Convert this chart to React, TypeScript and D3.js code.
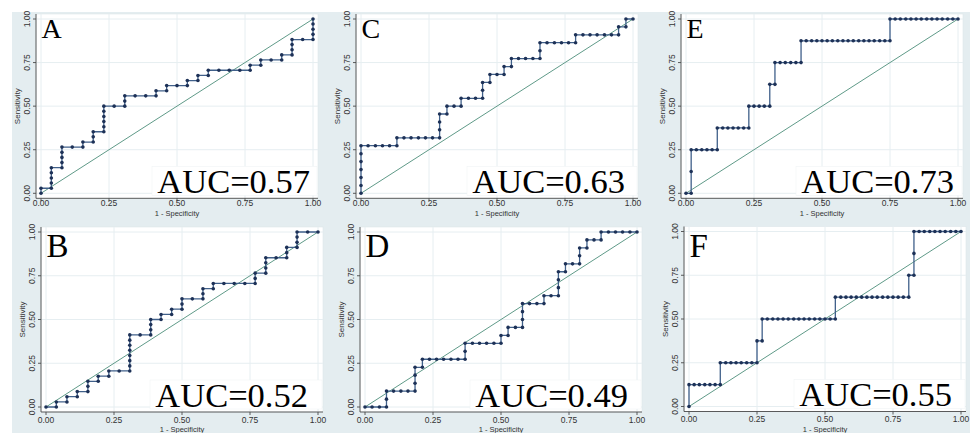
import React from "react";
import * as d3 from "d3";

// panel letters and AUC values, in drawing order (top row, then bottom row)
const panelIds = ["A", "C", "E", "B", "D", "F"];
const aucValues = ["0.57", "0.63", "0.73", "0.52", "0.49", "0.55"];
const axisTicks = [0, 0.25, 0.5, 0.75, 1];
const tickLabels = ["0.00", "0.25", "0.50", "0.75", "1.00"];
const xTitle = "1 - Specificity";
const yTitle = "Sensitivity";

// [1 - specificity, sensitivity]
const rocA: [number, number][] = [[0,0],[0,.029],[.038,.029],[.038,.059],[.038,.088],[.038,.118],[.038,.147],[.077,.147],[.077,.176],[.077,.206],[.077,.235],[.077,.265],[.115,.265],[.154,.265],[.154,.294],[.192,.294],[.192,.324],[.192,.353],[.231,.353],[.231,.382],[.231,.412],[.231,.441],[.231,.471],[.231,.5],[.269,.5],[.308,.5],[.308,.529],[.308,.559],[.346,.559],[.385,.559],[.423,.559],[.423,.588],[.462,.588],[.462,.618],[.5,.618],[.538,.618],[.538,.647],[.577,.647],[.577,.676],[.615,.676],[.615,.706],[.654,.706],[.692,.706],[.731,.706],[.769,.706],[.769,.735],[.808,.735],[.808,.765],[.846,.765],[.885,.765],[.885,.794],[.923,.794],[.923,.824],[.923,.853],[.923,.882],[.962,.882],[1,.882],[1,.912],[1,.941],[1,.971],[1,1]];

const rocB: [number, number][] = [[0,0],[.038,0],[.038,.029],[.077,.029],[.077,.059],[.115,.059],[.115,.088],[.154,.088],[.154,.118],[.154,.147],[.192,.147],[.192,.176],[.231,.176],[.231,.206],[.269,.206],[.308,.206],[.308,.235],[.308,.265],[.308,.294],[.308,.324],[.308,.353],[.308,.382],[.308,.412],[.346,.412],[.385,.412],[.385,.441],[.385,.471],[.385,.5],[.423,.5],[.423,.529],[.462,.529],[.462,.559],[.5,.559],[.5,.588],[.5,.618],[.538,.618],[.577,.618],[.577,.647],[.577,.676],[.615,.676],[.615,.706],[.654,.706],[.692,.706],[.731,.706],[.769,.706],[.769,.735],[.769,.765],[.808,.765],[.808,.794],[.808,.824],[.808,.853],[.846,.853],[.885,.853],[.885,.882],[.885,.912],[.923,.912],[.923,.941],[.923,.971],[.923,1],[.962,1],[1,1]];

const rocC: [number, number][] = [[0,0],[0,.045],[0,.091],[0,.136],[0,.182],[0,.227],[0,.273],[.026,.273],[.053,.273],[.079,.273],[.105,.273],[.132,.273],[.132,.318],[.158,.318],[.184,.318],[.211,.318],[.237,.318],[.263,.318],[.289,.318],[.289,.364],[.289,.409],[.289,.455],[.316,.455],[.316,.5],[.342,.5],[.368,.5],[.368,.545],[.395,.545],[.421,.545],[.447,.545],[.447,.591],[.447,.636],[.474,.636],[.474,.682],[.5,.682],[.526,.682],[.526,.727],[.553,.727],[.553,.773],[.579,.773],[.605,.773],[.632,.773],[.658,.773],[.658,.818],[.658,.864],[.684,.864],[.711,.864],[.737,.864],[.763,.864],[.789,.864],[.789,.909],[.816,.909],[.842,.909],[.868,.909],[.895,.909],[.921,.909],[.947,.909],[.947,.955],[.974,.955],[.974,1],[1,1]];

const rocD: [number, number][] = [[0,0],[.026,0],[.053,0],[.079,0],[.079,.045],[.079,.091],[.105,.091],[.132,.091],[.158,.091],[.184,.091],[.184,.136],[.184,.182],[.184,.227],[.211,.227],[.211,.273],[.237,.273],[.263,.273],[.289,.273],[.316,.273],[.342,.273],[.368,.273],[.368,.318],[.368,.364],[.395,.364],[.421,.364],[.447,.364],[.474,.364],[.5,.364],[.5,.409],[.526,.409],[.526,.455],[.553,.455],[.579,.455],[.579,.5],[.579,.545],[.579,.591],[.605,.591],[.632,.591],[.658,.591],[.658,.636],[.684,.636],[.711,.636],[.711,.682],[.711,.727],[.711,.773],[.737,.773],[.737,.818],[.763,.818],[.789,.818],[.789,.864],[.789,.909],[.816,.909],[.816,.955],[.842,.955],[.868,.955],[.868,1],[.895,1],[.921,1],[.947,1],[.974,1],[1,1]];

const rocE: [number, number][] = [[0,0],[.019,0],[.019,.125],[.019,.25],[.038,.25],[.058,.25],[.077,.25],[.096,.25],[.115,.25],[.115,.375],[.135,.375],[.154,.375],[.173,.375],[.192,.375],[.212,.375],[.231,.375],[.231,.5],[.25,.5],[.269,.5],[.288,.5],[.308,.5],[.308,.625],[.327,.625],[.327,.75],[.346,.75],[.365,.75],[.385,.75],[.404,.75],[.423,.75],[.423,.875],[.442,.875],[.462,.875],[.481,.875],[.5,.875],[.519,.875],[.538,.875],[.558,.875],[.577,.875],[.596,.875],[.615,.875],[.635,.875],[.654,.875],[.673,.875],[.692,.875],[.712,.875],[.731,.875],[.75,.875],[.75,1],[.769,1],[.788,1],[.808,1],[.827,1],[.846,1],[.865,1],[.885,1],[.904,1],[.923,1],[.942,1],[.962,1],[.981,1],[1,1]];

const rocF: [number, number][] = [[0,0],[0,.125],[.019,.125],[.038,.125],[.058,.125],[.077,.125],[.096,.125],[.115,.125],[.115,.25],[.135,.25],[.154,.25],[.173,.25],[.192,.25],[.212,.25],[.231,.25],[.25,.25],[.25,.375],[.269,.375],[.269,.5],[.288,.5],[.308,.5],[.327,.5],[.346,.5],[.365,.5],[.385,.5],[.404,.5],[.423,.5],[.442,.5],[.462,.5],[.481,.5],[.5,.5],[.519,.5],[.538,.5],[.538,.625],[.558,.625],[.577,.625],[.596,.625],[.615,.625],[.635,.625],[.654,.625],[.673,.625],[.692,.625],[.712,.625],[.731,.625],[.75,.625],[.769,.625],[.788,.625],[.808,.625],[.808,.75],[.827,.75],[.827,.875],[.827,1],[.846,1],[.865,1],[.885,1],[.904,1],[.923,1],[.942,1],[.962,1],[.981,1],[1,1]];

const rocData = [rocA, rocC, rocE, rocB, rocD, rocF];

// where each panel's 0..1 data box sits on the page
const layout = [
  { x0: 41, x1: 313, yTop: 19, yBot: 193.3, letterSize: 28, letterDy: 18.7, aucRight: 310, labDy: 10, titleDy: 20 },
  { x0: 361, x1: 633, yTop: 19, yBot: 193.3, letterSize: 28, letterDy: 18.7, aucRight: 625, labDy: 10, titleDy: 20 },
  { x0: 686, x1: 958, yTop: 19, yBot: 193.3, letterSize: 28, letterDy: 18.7, aucRight: 954, labDy: 10, titleDy: 20 },
  { x0: 46, x1: 318, yTop: 232, yBot: 407, letterSize: 33, letterDy: 25.3, aucRight: 308, labDy: 12.5, titleDy: 22.5 },
  { x0: 365, x1: 637, yTop: 232, yBot: 407, letterSize: 33, letterDy: 25.3, aucRight: 628, labDy: 12.5, titleDy: 22.5 },
  { x0: 689, x1: 961, yTop: 231.5, yBot: 406.5, letterSize: 33, letterDy: 25.3, aucRight: 952, labDy: 12.5, titleDy: 22.5 },
];

const sans = "'Liberation Sans', Arial, sans-serif";
const serif = "'Liberation Serif', 'Times New Roman', serif";
const bg = "#e4edf0";
const gridCol = "#e6eef1";
const axisCol = "#4a4a4a";
const lineCol = "#40608a";
const dotCol = "#1d3157";
const diagCol = "#5f9a88";

function Panel({ idx }: { idx: number }) {
  const p = layout[idx];
  const roc = rocData[idx];
  const x = d3.scaleLinear().domain([0, 1]).range([p.x0, p.x1]);
  const y = d3.scaleLinear().domain([0, 1]).range([p.yBot, p.yTop]);
  const line = d3.line<[number, number]>().x(d => x(d[0])).y(d => y(d[1]));
  const pad = 5;
  const left = p.x0 - pad, right = p.x1 + pad;
  const top = p.yTop - pad, bottom = p.yBot + pad;
  const aucText = "AUC=" + aucValues[idx];
  const boxX = p.aucRight - 158;

  return (
    <g>
      <rect x={left} y={top} width={right - left} height={bottom - top} fill="#fff" stroke="#dde6e9" strokeWidth={0.6} />
      {axisTicks.map((t, i) => (
        <g key={"g" + i}>
          <line x1={x(t)} x2={x(t)} y1={top} y2={bottom} stroke={gridCol} strokeWidth={1} />
          <line x1={left} x2={right} y1={y(t)} y2={y(t)} stroke={gridCol} strokeWidth={1} />
        </g>
      ))}
      {/* pasted AUC label box */}
      <rect x={boxX} y={p.yBot - 27} width={right - boxX - 1} height={29} fill="#fff" stroke="#eef2f4" strokeWidth={0.5} />
      <line x1={x(0)} y1={y(0)} x2={x(1)} y2={y(1)} stroke={diagCol} strokeWidth={1} />
      <path d={line(roc) || ""} fill="none" stroke={lineCol} strokeWidth={1.3} />
      {roc.map((d, i) => (
        <circle key={i} cx={x(d[0])} cy={y(d[1])} r={1.8} fill={dotCol} />
      ))}
      {/* axes */}
      <line x1={left} x2={right} y1={bottom} y2={bottom} stroke={axisCol} strokeWidth={0.9} />
      <line x1={left} x2={left} y1={top} y2={bottom} stroke={axisCol} strokeWidth={0.9} />
      {axisTicks.map((t, i) => (
        <g key={"t" + i}>
          <line x1={x(t)} x2={x(t)} y1={bottom} y2={bottom + 3} stroke={axisCol} strokeWidth={0.9} />
          <text x={x(t)} y={p.yBot + p.labDy} textAnchor="middle" dominantBaseline="central" fontFamily={sans} fontSize={8.5} fill="#333">
            {tickLabels[i]}
          </text>
          <line x1={left} x2={left - 3} y1={y(t)} y2={y(t)} stroke={axisCol} strokeWidth={0.9} />
          <text transform={`translate(${p.x0 - 14},${y(t)}) rotate(-90)`} textAnchor="middle" dominantBaseline="central" fontFamily={sans} fontSize={8.5} fill="#333">
            {tickLabels[i]}
          </text>
        </g>
      ))}
      <text x={(p.x0 + p.x1) / 2} y={p.yBot + p.titleDy} textAnchor="middle" dominantBaseline="central" fontFamily={sans} fontSize={7.5} fill="#333">
        {xTitle}
      </text>
      <text transform={`translate(${p.x0 - 24},${(p.yTop + p.yBot) / 2}) rotate(-90)`} textAnchor="middle" dominantBaseline="central" fontFamily={sans} fontSize={8} fill="#333">
        {yTitle}
      </text>
      <text x={p.x0 + 0.5} y={p.yTop + p.letterDy} fontFamily={serif} fontSize={p.letterSize} fill="#000">
        {panelIds[idx]}
      </text>
      <text x={p.aucRight} y={p.yBot - 0.5} textAnchor="end" fontFamily={serif} fontSize={34.5} fill="#000">
        {aucText}
      </text>
    </g>
  );
}

export default function App() {
  const W = 974, H = 433;
  return (
    <svg width={W} height={H} style={{ position: "absolute", left: 0, top: 0, display: "block" }}>
      <rect x={0} y={0} width={W} height={H} fill="#fff" />
      <rect x={12} y={12} width={958} height={H - 12} fill={bg} />
      {panelIds.map((_, i) => (
        <Panel key={i} idx={i} />
      ))}
    </svg>
  );
}
